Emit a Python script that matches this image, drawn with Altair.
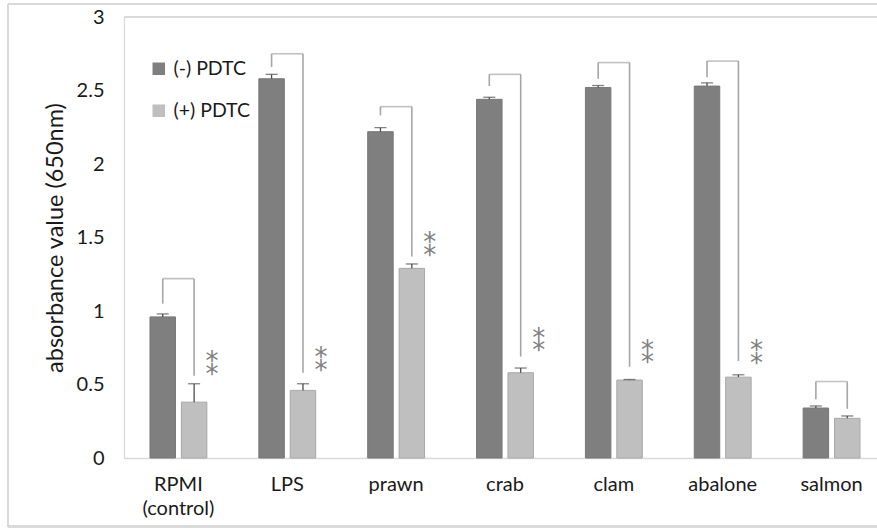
import altair as alt
import pandas as pd

# Absorbance at 650 nm, without and with PDTC, per stimulus
categories = ["RPMI (control)", "LPS", "prawn", "crab", "clam", "abalone", "salmon"]
groups = ["(-) PDTC", "(+) PDTC"]
minus_pdtc = [0.96, 2.58, 2.22, 2.44, 2.52, 2.53, 0.34]
minus_err = [0.02, 0.03, 0.027, 0.014, 0.014, 0.022, 0.014]
plus_pdtc = [0.38, 0.46, 1.29, 0.58, 0.53, 0.55, 0.27]
plus_err = [0.125, 0.045, 0.03, 0.032, 0.004, 0.016, 0.016]

# Comparison brackets: crossbar level and the lower end of each leg
bracket_top = [1.22, 2.75, 2.39, 2.61, 2.69, 2.70, 0.52]
bracket_minus_end = [1.05, 2.66, 2.33, 2.53, 2.58, 2.59, 0.40]
bracket_plus_end = [0.56, 0.58, 1.37, 0.69, 0.62, 0.66, 0.335]
# Significance marks next to the (+) PDTC bars
star_y = [0.65, 0.68, 1.46, 0.81, 0.73, 0.725, None]
star_text = "*\n*"

rows = []
for i, c in enumerate(categories):
    rows.append(dict(category=c, group=groups[0], value=minus_pdtc[i],
                     hi=minus_pdtc[i] + minus_err[i], leg_end=bracket_minus_end[i],
                     top=bracket_top[i]))
    rows.append(dict(category=c, group=groups[1], value=plus_pdtc[i],
                     hi=plus_pdtc[i] + plus_err[i], leg_end=bracket_plus_end[i],
                     top=bracket_top[i]))
bars_df = pd.DataFrame(rows)
stars_df = pd.DataFrame([dict(category=c, group=groups[1], y=s, label=star_text)
                         for c, s in zip(categories, star_y) if s is not None])

FONT = "Lato"
W, H = 753, 441
FRAME = "#d9d9d9"
TEXT = "#1a1a1a"

x_enc = alt.X("category:N", sort=categories,
              scale=alt.Scale(domain=categories, range=[0, 762], paddingInner=0, paddingOuter=0),
              axis=alt.Axis(title=None, labelAngle=0, ticks=False, domainColor=FRAME, domainWidth=1.3,
                            labelFontSize=20, labelPadding=16, labelLineHeight=24,
                            labelColor=TEXT, labelExpr="split(datum.label, ' ')"))
xoff_enc = alt.XOffset("group:N", sort=groups,
                       scale=alt.Scale(domain=groups, paddingInner=0.188, paddingOuter=0.828))
y_scale = alt.Scale(domain=[0, 3], nice=False)
y_axis = alt.Axis(title="absorbance value (650nm)", values=[0, 0.5, 1, 1.5, 2, 2.5, 3], format="~g",
                  grid=False, ticks=False, domainColor=FRAME, domainWidth=1.3,
                  labelFontSize=20, labelPadding=20, labelColor=TEXT, labelFlush=False,
                  titleFontSize=23.5, titleFontWeight="normal", titleColor=TEXT,
                  titleX=-62, titleY=H / 2, titleAlign="center", titleBaseline="alphabetic")

base = alt.Chart(bars_df)

bars = base.mark_bar(strokeWidth=1).encode(
    x=x_enc,
    xOffset=xoff_enc,
    y=alt.Y("value:Q", scale=y_scale, axis=y_axis),
    color=alt.Color("group:N", sort=groups,
                    scale=alt.Scale(domain=groups, range=["#7f7f7f", "#bfbfbf"]),
                    legend=alt.Legend(orient="none", legendX=25, legendY=42, title=None,
                                      symbolType="square", symbolSize=156, symbolStrokeWidth=0,
                                      labelFontSize=19.5, labelColor=TEXT, labelOffset=5,
                                      rowPadding=21)),
    stroke=alt.Stroke("group:N", sort=groups,
                      scale=alt.Scale(domain=groups, range=["#787878", "#a8a8a8"]), legend=None),
)

err_rule = base.mark_rule(color="#4d4d4d", strokeWidth=1.3).encode(
    x=alt.X("category:N", sort=categories), xOffset=xoff_enc,
    y=alt.Y("value:Q", scale=y_scale), y2="hi:Q")
err_cap = base.mark_tick(color="#4d4d4d", thickness=1.3, size=12, orient="horizontal").encode(
    x=alt.X("category:N", sort=categories), xOffset=xoff_enc,
    y=alt.Y("hi:Q", scale=y_scale))

legs = base.mark_rule(color="#a6a6a6", strokeWidth=1.6).encode(
    x=alt.X("category:N", sort=categories), xOffset=xoff_enc,
    y=alt.Y("leg_end:Q", scale=y_scale), y2="top:Q")
crossbar = base.transform_filter(alt.datum.group == groups[0]).mark_tick(
    color="#a6a6a6", thickness=1.6, size=31.4, orient="horizontal").encode(
    x=alt.X("category:N", sort=categories),
    y=alt.Y("top:Q", scale=y_scale))

stars = alt.Chart(stars_df).mark_text(font="DejaVu Sans", fontSize=26, color="#808080",
                                      lineBreak="\n", lineHeight=12.5,
                                      dx=18, dy=0, baseline="middle").encode(
    x=alt.X("category:N", sort=categories), xOffset=xoff_enc,
    y=alt.Y("y:Q", scale=y_scale), text="label:N")

# plot-area top edge and outer chart frame
frame_top = alt.Chart(bars_df).mark_rule(color=FRAME, strokeWidth=1.3).encode(
    x=alt.value(0), x2=alt.value(W), y=alt.value(0))
outer_left = alt.Chart(bars_df).mark_rule(color=FRAME, strokeWidth=1.5).encode(
    x=alt.value(-116), y=alt.value(-13), y2=alt.value(510))
outer_top = alt.Chart(bars_df).mark_rule(color=FRAME, strokeWidth=1.5).encode(
    x=alt.value(-116), x2=alt.value(W), y=alt.value(-13))
outer_bottom = alt.Chart(bars_df).mark_rule(color=FRAME, strokeWidth=1.5).encode(
    x=alt.value(-116), x2=alt.value(W), y=alt.value(509.5))

chart = alt.layer(
    outer_left, outer_top, outer_bottom, frame_top,
    bars, err_rule, err_cap, legs, crossbar, stars,
).resolve_scale(x="shared", y="shared").properties(
    width=W, height=H,
    autosize=alt.AutoSizeParams(type="none"),
    padding={"left": 124, "top": 17, "right": 0, "bottom": 70},
).configure(font=FONT).configure_view(stroke=None).configure_axis(labelFont=FONT, titleFont=FONT)

chart.save("out.html", embed_options={"renderer": "svg", "actions": False})
